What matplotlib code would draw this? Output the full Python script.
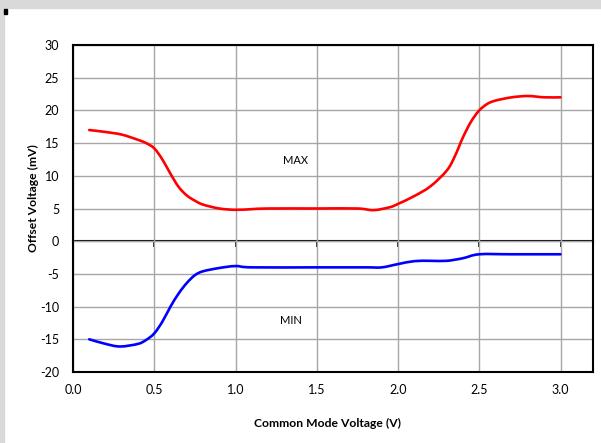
import matplotlib.pyplot as plt
import numpy as np
from matplotlib.patches import PathPatch, Rectangle
from matplotlib.path import Path

plt.rcParams["font.family"] = ["Lato", "DejaVu Sans"]
plt.rcParams["axes.unicode_minus"] = False

# Offset voltage vs common mode voltage
max_vcm = [0.1, 0.2, 0.3, 0.4, 0.45, 0.5, 0.55, 0.6, 0.65, 0.7, 0.75, 0.8,
           0.9, 1.0, 1.1, 1.2, 1.5, 1.75, 1.85, 1.95, 2.0, 2.1, 2.2, 2.3,
           2.35, 2.4, 2.45, 2.5, 2.55, 2.6, 2.7, 2.8, 2.9, 3.0]
max_offset = [17.0, 16.7, 16.3, 15.5, 15.0, 14.2, 12.5, 10.3, 8.3, 7.0, 6.2,
              5.6, 5.0, 4.8, 4.9, 5.0, 5.0, 5.0, 4.75, 5.2, 5.7, 6.9, 8.4,
              10.8, 13.0, 15.9, 18.3, 20.0, 21.0, 21.5, 22.0, 22.2, 22.0, 22.0]

min_vcm = [0.1, 0.2, 0.29, 0.4, 0.45, 0.5, 0.55, 0.6, 0.65, 0.7, 0.75, 0.8,
           0.9, 1.0, 1.1, 1.5, 1.8, 1.9, 2.0, 2.1, 2.2, 2.3, 2.4, 2.5, 2.7, 3.0]
min_offset = [-15.0, -15.7, -16.1, -15.7, -15.1, -14.1, -12.3, -10.0, -8.0,
              -6.4, -5.2, -4.6, -4.1, -3.8, -4.0, -4.0, -4.0, -4.0, -3.5,
              -3.05, -3.0, -3.0, -2.6, -2.0, -2.0, -2.0]

x_ticks = [0.0, 0.5, 1.0, 1.5, 2.0, 2.5, 3.0]
y_ticks = [-20, -15, -10, -5, 0, 5, 10, 15, 20, 25, 30]


def smooth_line(ax, x, y, color, lw):
    # Excel-like smoothed line: cubic Bezier through every point
    p = np.column_stack([x, y])
    ext = np.vstack([p[0], p, p[-1]])
    verts = [p[0]]
    codes = [Path.MOVETO]
    for i in range(len(p) - 1):
        c1 = ext[i + 1] + (ext[i + 2] - ext[i]) / 6
        c2 = ext[i + 2] - (ext[i + 3] - ext[i + 1]) / 6
        verts += [c1, c2, p[i + 1]]
        codes += [Path.CURVE4] * 3
    ax.add_patch(PathPatch(Path(verts, codes), fill=False, edgecolor=color,
                           lw=lw, zorder=3, capstyle="round"))


W, H = 601, 443
fig = plt.figure(figsize=(W / 100, H / 100), dpi=100)

# Frame band like the original screenshot
fig.patches.append(Rectangle((0, 1 - 8 / H), 1, 8 / H, transform=fig.transFigure,
                             color="#d9d9d9", zorder=0))
fig.patches.append(Rectangle((0, 0), 4 / W, 1, transform=fig.transFigure,
                             color="#d9d9d9", zorder=0))
fig.patches.append(Rectangle((4 / W, 1 - 14 / H), 3 / W, 5 / H,
                             transform=fig.transFigure, color="black", zorder=1))

ax = fig.add_axes([73 / W, 1 - 372 / H, 520 / W, 327 / H])

smooth_line(ax, max_vcm, max_offset, "#ff0000", 1.9)
smooth_line(ax, min_vcm, min_offset, "#0000ff", 1.9)

ax.set_xlim(0, 3.2)
ax.set_ylim(-20, 30)
ax.set_xticks(x_ticks)
ax.set_xticklabels([f"{v:.1f}" for v in x_ticks])
ax.set_yticks(y_ticks)
ax.grid(True, color="#a6a6a6", lw=1.0, zorder=0)
ax.tick_params(axis="both", length=0, labelsize=9, colors="black", pad=10)
ax.tick_params(axis="x", pad=9)

for side in ["left", "bottom", "top", "right"]:
    ax.spines[side].set_linewidth(1.5)
    ax.spines[side].set_color("black")

# axis line through zero with small ticks
zero_axis = ax.secondary_xaxis(0.4)
zero_axis.set_xticks(x_ticks)
zero_axis.tick_params(length=4, width=1.2, direction="out", labelbottom=False)
zero_axis.spines["bottom"].set_linewidth(1.5)

ax.text(1.37, 12.4, "MAX", fontsize=8, ha="center", va="center")
ax.text(1.34, -12.1, "MIN", fontsize=8, ha="center", va="center")

fig.text(327 / W, 1 - 423 / H, "Common Mode Voltage (V)", fontsize=8.7,
         fontweight="bold", ha="center", va="center")
fig.text(33 / W, 1 - 198 / H, "Offset Voltage (mV)", fontsize=8.7,
         fontweight="bold", ha="center", va="center", rotation=90)

fig.savefig("out.png", dpi=100)
